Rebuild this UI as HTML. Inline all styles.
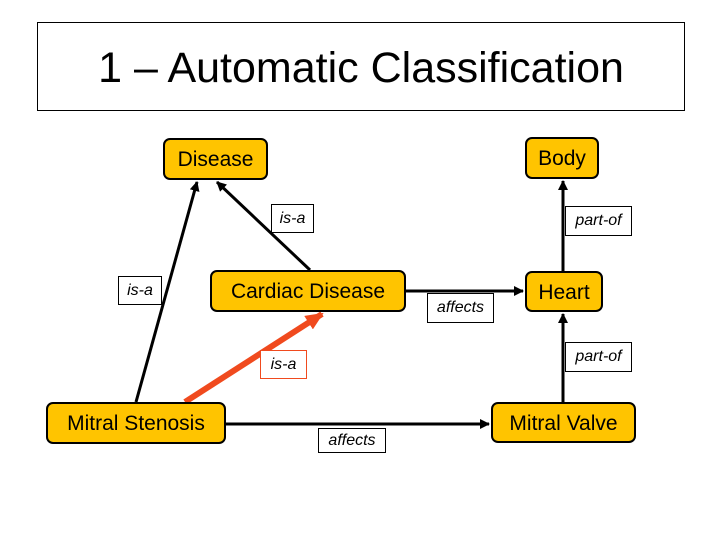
<!DOCTYPE html>
<html><head><style>
body{margin:0;width:720px;height:540px;background:#fff;overflow:hidden;font-family:"Liberation Sans",sans-serif}
.n{position:absolute;background:#FFC400;border:2px solid #000;border-radius:7px;box-sizing:border-box;display:flex;align-items:center;justify-content:center;font-size:21px;color:#000;padding-top:2px}
.l{position:absolute;background:#fff;border:1px solid #000;box-sizing:border-box;display:flex;align-items:center;justify-content:center;font-size:16px;font-style:italic}
</style></head><body>
<div style="position:absolute;left:37px;top:22px;width:648px;height:89px;border:1px solid #000;box-sizing:border-box;display:flex;align-items:center;justify-content:center;font-size:43px;padding-top:4px">1 – Automatic Classification</div>
<svg width="720" height="540" style="position:absolute;left:0;top:0">
<defs>
<marker id="a" markerWidth="10" markerHeight="10" refX="9" refY="5" orient="auto" markerUnits="userSpaceOnUse"><path d="M0,0L10,5L0,10z"/></marker>
<marker id="r" markerWidth="18" markerHeight="16" refX="16" refY="8" orient="auto" markerUnits="userSpaceOnUse"><path d="M0,0L18,8L0,16z" fill="#F04A1E"/></marker>
</defs>
<g stroke="#000" stroke-width="3" fill="none">
<line x1="136" y1="402" x2="197" y2="182" marker-end="url(#a)"/>
<line x1="310" y1="270" x2="217" y2="182" marker-end="url(#a)"/>
<line x1="226" y1="424" x2="489" y2="424" marker-end="url(#a)"/>
<line x1="406" y1="291" x2="523" y2="291" marker-end="url(#a)"/>
<line x1="563" y1="271" x2="563" y2="181" marker-end="url(#a)"/>
<line x1="563" y1="402" x2="563" y2="314" marker-end="url(#a)"/>
</g>
<line x1="185" y1="402" x2="322" y2="314" stroke="#F04A1E" stroke-width="6" marker-end="url(#r)"/>
</svg>
<div class="n" style="left:163px;top:138px;width:105px;height:42px">Disease</div>
<div class="n" style="left:525px;top:137px;width:74px;height:42px">Body</div>
<div class="n" style="left:210px;top:270px;width:196px;height:42px">Cardiac Disease</div>
<div class="n" style="left:525px;top:271px;width:78px;height:41px">Heart</div>
<div class="n" style="left:46px;top:402px;width:180px;height:42px">Mitral Stenosis</div>
<div class="n" style="left:491px;top:402px;width:145px;height:41px">Mitral Valve</div>
<div class="l" style="left:118px;top:276px;width:44px;height:29px">is-a</div>
<div class="l" style="left:271px;top:204px;width:43px;height:29px">is-a</div>
<div class="l" style="left:260px;top:350px;width:47px;height:29px;border-color:#F04A1E">is-a</div>
<div class="l" style="left:318px;top:428px;width:68px;height:25px">affects</div>
<div class="l" style="left:427px;top:293px;width:67px;height:30px">affects</div>
<div class="l" style="left:565px;top:206px;width:67px;height:30px">part-of</div>
<div class="l" style="left:565px;top:342px;width:67px;height:30px">part-of</div>
</body></html>
